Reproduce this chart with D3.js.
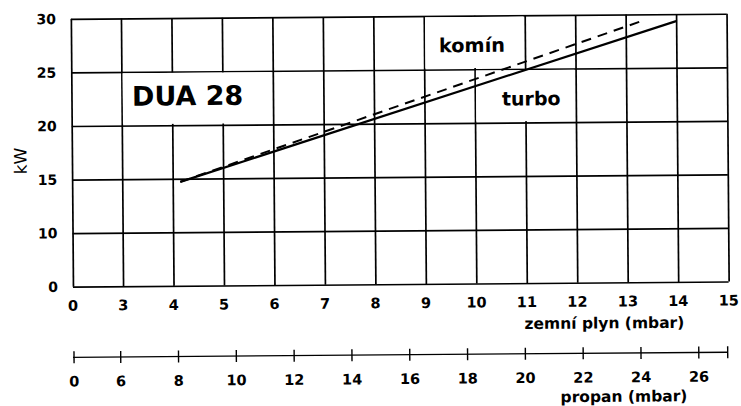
<!DOCTYPE html>
<html>
<head>
<meta charset="utf-8">
<script src="https://cdn.jsdelivr.net/npm/d3@7"></script>
<style>
  html, body { margin: 0; padding: 0; background: #fff; }
  svg { display: block; }
  text { font-family: "DejaVu Sans", sans-serif; fill: #000; }
</style>
</head>
<body>
<svg id="chart" width="741" height="406"></svg>
<script>
// ---- data ----
const zemniTicks = [0, 3, 4, 5, 6, 7, 8, 9, 10, 11, 12, 13, 14, 15];
const propanTicks = [0, 6, 8, 10, 12, 14, 16, 18, 20, 22, 24, 26];
const kwTicks = [0, 10, 15, 20, 25, 30];
// series: x = zemni plyn pressure (mbar), y = kW
const turboX = [4.15, 14.0];
const turboY = [14.7, 29.35];
const kominX = [4.15, 13.3];
const kominY = [14.7, 29.35];
const title = "DUA 28";
const labelKomin = "komín";
const labelTurbo = "turbo";
const xTitle = "zemní plyn (mbar)";
const pTitle = "propan (mbar)";
const yTitle = "kW";

// ---- scales (broken axes -> piecewise linear) ----
const x = d3.scaleLinear().domain([0, 3, 15]).range([71.9, 122, 727.6]);
const y = d3.scaleLinear().domain([0, 10, 30]).range([284.1, 230.5, 16.3]);
const p = d3.scaleLinear().domain([0, 6, 27]).range([72.4, 119.1, 726.1]);

const svg = d3.select("#chart");
const root = svg.append("g").attr("transform", "rotate(-0.45 400 150)");

// ---- grid ----
const gx = root.append("g")
  .attr("transform", `translate(0,${y(0)})`)
  .call(d3.axisBottom(x).tickValues(zemniTicks).tickSize(-(y(0) - y(30))).tickFormat(""));
gx.select(".domain").remove();
gx.selectAll("line").attr("stroke", "#000").attr("stroke-width", 1.7);

const gy = root.append("g")
  .attr("transform", `translate(${x(0)},0)`)
  .call(d3.axisLeft(y).tickValues(kwTicks).tickSize(-(x(15) - x(0))).tickFormat(""));
gy.select(".domain").remove();
gy.selectAll("line").attr("stroke", "#000").attr("stroke-width", 1.7);

// ---- label boxes hiding inner grid lines ----
const boxes = [
  { x0: 3, x1: 6, y0: 20, y1: 25 },
  { x0: 9, x1: 11, y0: 25, y1: 30 },
  { x0: 10, x1: 12, y0: 20, y1: 25 }
];
root.selectAll("rect.box").data(boxes).join("rect")
  .attr("class", "box")
  .attr("x", d => x(d.x0) + 1.2)
  .attr("y", d => y(d.y1) + 1.2)
  .attr("width", d => x(d.x1) - x(d.x0) - 2.4)
  .attr("height", d => y(d.y0) - y(d.y1) - 2.4)
  .attr("fill", "#fff");

// ---- texts inside the plot ----
root.append("text").attr("x", x(3) + 10.4).attr("y", y(20) - 19.8)
  .attr("font-size", 27).attr("font-weight", "bold").text(title);
root.append("text").attr("x", x(9) + 15).attr("y", y(25) - 17.3)
  .attr("font-size", 19.3).attr("font-weight", "bold").text(labelKomin);
root.append("text").attr("x", x(10) + 27).attr("y", y(20) - 17)
  .attr("font-size", 19).attr("font-weight", "bold").text(labelTurbo);

// ---- lines ----
const line = d3.line().x(d => x(d[0])).y(d => y(d[1]));
const turbo = turboX.map((v, i) => [v, turboY[i]]);
const komin = kominX.map((v, i) => [v, kominY[i]]);
root.append("path").datum(komin).attr("d", line)
  .attr("fill", "none").attr("stroke", "#000").attr("stroke-width", 2)
  .attr("stroke-dasharray", "10,7");
root.append("path").datum(turbo).attr("d", line)
  .attr("fill", "none").attr("stroke", "#000").attr("stroke-width", 2.2);

// ---- axis labels ----
root.selectAll("text.xl").data(zemniTicks).join("text")
  .attr("class", "xl")
  .attr("x", d => x(d)).attr("y", y(0) + 24)
  .attr("text-anchor", "middle").attr("font-size", 14.5).attr("font-weight", "bold")
  .text(d => d);
root.selectAll("text.yl").data(kwTicks).join("text")
  .attr("class", "yl")
  .attr("x", x(0) - 15).attr("y", d => y(d) + 5.1)
  .attr("text-anchor", "end").attr("font-size", 14).attr("font-weight", "bold")
  .text(d => d);
root.append("text").attr("transform", "translate(26.5,158) rotate(-90)")
  .attr("text-anchor", "middle").attr("font-size", 17).text(yTitle);
root.append("text").attr("x", 603).attr("y", 330)
  .attr("text-anchor", "middle").attr("font-size", 15.5).attr("font-weight", "bold").text(xTitle);

// ---- propan axis ----
const pY = 354.8;
const gp = root.append("g");
gp.append("line").attr("x1", p(0) - 1).attr("x2", p(27)).attr("y1", pY).attr("y2", pY)
  .attr("stroke", "#000").attr("stroke-width", 1.3);
gp.selectAll("line.pt").data(propanTicks.concat([27])).join("line")
  .attr("class", "pt")
  .attr("x1", d => p(d)).attr("x2", d => p(d))
  .attr("y1", pY - 6).attr("y2", pY + 6)
  .attr("stroke", "#000").attr("stroke-width", 1.4);
gp.selectAll("text.pl").data(propanTicks).join("text")
  .attr("class", "pl")
  .attr("x", d => p(d)).attr("y", 384)
  .attr("text-anchor", "middle").attr("font-size", 14.5).attr("font-weight", "bold")
  .text(d => d);
root.append("text").attr("x", 622).attr("y", 403.5)
  .attr("text-anchor", "middle").attr("font-size", 15.5).attr("font-weight", "bold").text(pTitle);
</script>
</body>
</html>
